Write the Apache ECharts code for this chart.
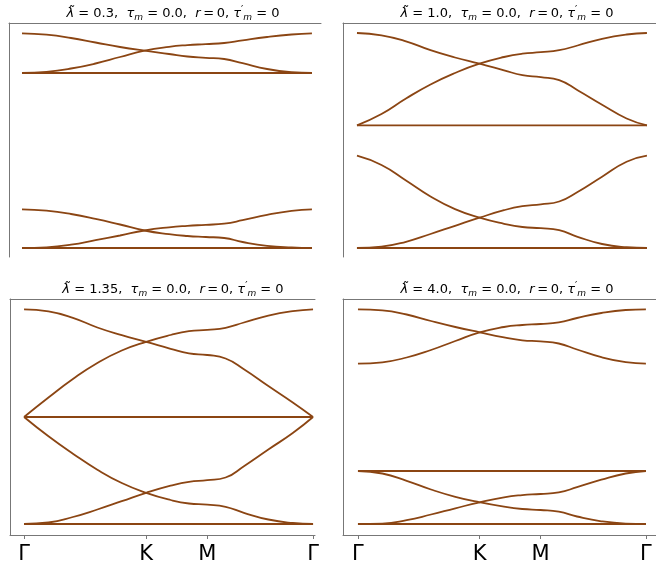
<!DOCTYPE html>
<html>
<head>
<meta charset="utf-8">
<script src="https://cdn.jsdelivr.net/npm/echarts@6/dist/echarts.min.js"></script>
<style>
  html, body { margin: 0; padding: 0; background: #fff; }
  #chart { width: 656px; height: 569px; }
</style>
</head>
<body>
<div id="chart"></div>
<script>
// Path through the Brillouin zone: Γ (0) → K (1) → M (1.5) → Γ (1.5 + √3/2)
const pathPos = [0, 0.2, 0.4, 0.6, 0.8, 1.0, 1.2, 1.35, 1.5, 1.65, 1.8, 2.0, 2.2, 2.366];
const tickPos = [0, 1, 1.5, 2.366];
const tickLabels = ['Γ', 'K', 'M', 'Γ'];

// Panel parameters
const lambdaValues = ['0.3', '1.0', '1.35', '4.0'];
const tauValues = ['0.0', '0.0', '0.0', '0.0'];
const rValues = ['0', '0', '0', '0'];
const tauPrimeValues = ['0', '0', '0', '0'];

// λ̃ = 0.3
const lam03UpperA = [2.147, 2.133, 2.100, 2.055, 2.010, 1.973, 1.940, 1.915, 1.902, 1.890, 1.848, 1.790, 1.758, 1.750];
const lam03UpperB = [1.750, 1.762, 1.795, 1.845, 1.910, 1.973, 2.012, 2.029, 2.039, 2.050, 2.077, 2.110, 2.135, 2.147];
const lam03LowerA = [0.387, 0.373, 0.340, 0.292, 0.235, 0.175, 0.138, 0.120, 0.110, 0.100, 0.060, 0.022, 0.005, 0];
const lam03LowerB = [0, 0.007, 0.033, 0.078, 0.125, 0.175, 0.207, 0.222, 0.232, 0.244, 0.278, 0.332, 0.372, 0.387];
const lam03Flat = [1.75, 0];

// λ̃ = 1.0
const lam10UpperA = [2.150, 2.127, 2.067, 1.978, 1.905, 1.843, 1.777, 1.728, 1.708, 1.678, 1.578, 1.433, 1.295, 1.227];
const lam10UpperB = [1.227, 1.340, 1.495, 1.635, 1.750, 1.843, 1.910, 1.943, 1.958, 1.978, 2.025, 2.092, 2.135, 2.150];
const lam10LowerA = [0.923, 0.830, 0.675, 0.515, 0.388, 0.303, 0.242, 0.210, 0.198, 0.178, 0.112, 0.040, 0.008, 0];
const lam10LowerB = [0, 0.013, 0.062, 0.140, 0.222, 0.303, 0.378, 0.418, 0.437, 0.465, 0.560, 0.713, 0.862, 0.923];
const lam10Flat = [1.227, 0];

// λ̃ = 1.35
const lam135UpperA = [2.147, 2.127, 2.062, 1.965, 1.888, 1.822, 1.752, 1.706, 1.690, 1.655, 1.548, 1.380, 1.215, 1.070];
const lam135UpperB = [1.070, 1.265, 1.450, 1.610, 1.735, 1.822, 1.890, 1.928, 1.942, 1.962, 2.015, 2.083, 2.128, 2.147];
const lam135LowerA = [1.070, 0.877, 0.703, 0.543, 0.410, 0.312, 0.240, 0.205, 0.194, 0.172, 0.112, 0.045, 0.010, 0];
const lam135LowerB = [0, 0.015, 0.070, 0.145, 0.228, 0.312, 0.383, 0.422, 0.438, 0.465, 0.578, 0.745, 0.910, 1.070];
const lam135Flat = [1.07, 0];

// λ̃ = 4.0
const lam40UpperA = [2.147, 2.137, 2.095, 2.030, 1.970, 1.917, 1.867, 1.837, 1.826, 1.805, 1.745, 1.668, 1.618, 1.603];
const lam40UpperB = [1.603, 1.617, 1.665, 1.740, 1.830, 1.917, 1.970, 1.990, 2.000, 2.016, 2.060, 2.110, 2.140, 2.147];
const lam40LowerA = [0.530, 0.505, 0.432, 0.345, 0.272, 0.217, 0.173, 0.150, 0.140, 0.124, 0.075, 0.027, 0.004, 0];
const lam40LowerB = [0, 0.004, 0.038, 0.095, 0.157, 0.217, 0.267, 0.289, 0.300, 0.316, 0.368, 0.443, 0.505, 0.530];
const lam40Flat = [0.53, 0];

const bandColor = '#8B4513';
const spineColor = '#777';
const fontFamily = 'DejaVu Sans';

// Layout of the four panels
const panels = [
  { curves: [lam03UpperA, lam03UpperB, lam03LowerA, lam03LowerB], flats: lam03Flat,
    grid: { left: 9, top: 23, width: 312, height: 234 }, xRange: [-0.106, 2.44], yRange: [-0.09, 2.25],
    bottomAxis: false, titleX: 168, titleTop: 0 },
  { curves: [lam10UpperA, lam10UpperB, lam10LowerA, lam10LowerB], flats: lam10Flat,
    grid: { left: 343, top: 23, width: 313, height: 234 }, xRange: [-0.114, 2.44], yRange: [-0.09, 2.25],
    bottomAxis: false, titleX: 502, titleTop: 0 },
  { curves: [lam135UpperA, lam135UpperB, lam135LowerA, lam135LowerB], flats: lam135Flat,
    grid: { left: 10, top: 299, width: 305, height: 236 }, xRange: [-0.115, 2.382], yRange: [-0.11, 2.25],
    bottomAxis: true, titleX: 168, titleTop: 276 },
  { curves: [lam40UpperA, lam40UpperB, lam40LowerA, lam40LowerB], flats: lam40Flat,
    grid: { left: 343, top: 299, width: 313, height: 236 }, xRange: [-0.123, 2.449], yRange: [-0.11, 2.25],
    bottomAxis: true, titleX: 502, titleTop: 276 }
];

const grids = [], xAxes = [], yAxes = [], series = [], titles = [];
const lastPos = pathPos[pathPos.length - 1];

panels.forEach((p, i) => {
  grids.push(Object.assign({ containLabel: false }, p.grid));

  // bottom x axis (Γ K M Γ ticks on lower row)
  xAxes.push({
    type: 'value', gridIndex: i, position: 'bottom',
    min: p.xRange[0], max: p.xRange[1],
    splitLine: { show: false },
    axisLine: { show: p.bottomAxis, onZero: false, lineStyle: { color: spineColor, width: 1 } },
    axisTick: { show: p.bottomAxis, inside: false, length: 4, customValues: tickPos,
                lineStyle: { color: spineColor, width: 1 } },
    axisLabel: { show: p.bottomAxis, customValues: tickPos, margin: 9,
                 color: '#000', fontSize: 21, fontFamily: fontFamily,
                 formatter: v => tickLabels[tickPos.indexOf(v)] || '' }
  });
  // top spine
  xAxes.push({
    type: 'value', gridIndex: i, position: 'top',
    min: p.xRange[0], max: p.xRange[1],
    splitLine: { show: false },
    axisLine: { show: true, onZero: false, lineStyle: { color: spineColor, width: 1 } },
    axisTick: { show: false }, axisLabel: { show: false }
  });
  // left spine
  yAxes.push({
    type: 'value', gridIndex: i, position: 'left',
    min: p.yRange[0], max: p.yRange[1],
    splitLine: { show: false },
    axisLine: { show: true, onZero: false, lineStyle: { color: spineColor, width: 1 } },
    axisTick: { show: false }, axisLabel: { show: false }
  });

  const xIdx = i * 2;
  p.curves.forEach(arr => {
    series.push({
      type: 'line', xAxisIndex: xIdx, yAxisIndex: i,
      data: pathPos.map((s, k) => [s, arr[k]]),
      showSymbol: false, smooth: 0.5, silent: true,
      lineStyle: { color: bandColor, width: 1.8 }
    });
  });
  p.flats.forEach(v => {
    series.push({
      type: 'line', xAxisIndex: xIdx, yAxisIndex: i,
      data: [[pathPos[0], v], [lastPos, v]],
      showSymbol: false, silent: true,
      lineStyle: { color: bandColor, width: 1.8 }
    });
  });

  titles.push({
    text: '{it|λ\u0303} = ' + lambdaValues[i] + ',  {it|τ}{sub|m} = ' + tauValues[i] +
          ',  {it|r}\u2009=\u2009' + rValues[i] + ', {it|τ}{sup|′}{sub|m} = ' + tauPrimeValues[i],
    left: p.titleX, top: p.titleTop, textAlign: 'center',
    textStyle: {
      fontFamily: fontFamily, fontSize: 13, fontWeight: 'normal', color: '#000',
      rich: {
        it: { fontFamily: fontFamily, fontSize: 13, fontStyle: 'italic', color: '#000' },
        sub: { fontFamily: fontFamily, fontSize: 9, fontStyle: 'italic', color: '#000', padding: [8, 0, 0, 0] },
        sup: { fontFamily: fontFamily, fontSize: 10, color: '#000', padding: [0, 0, 8, 0] }
      }
    }
  });
});

const chart = echarts.init(document.getElementById('chart'), null, { renderer: 'canvas' });
chart.setOption({
  animation: false,
  backgroundColor: '#fff',
  title: titles,
  grid: grids,
  xAxis: xAxes,
  yAxis: yAxes,
  series: series
});
</script>
</body>
</html>
